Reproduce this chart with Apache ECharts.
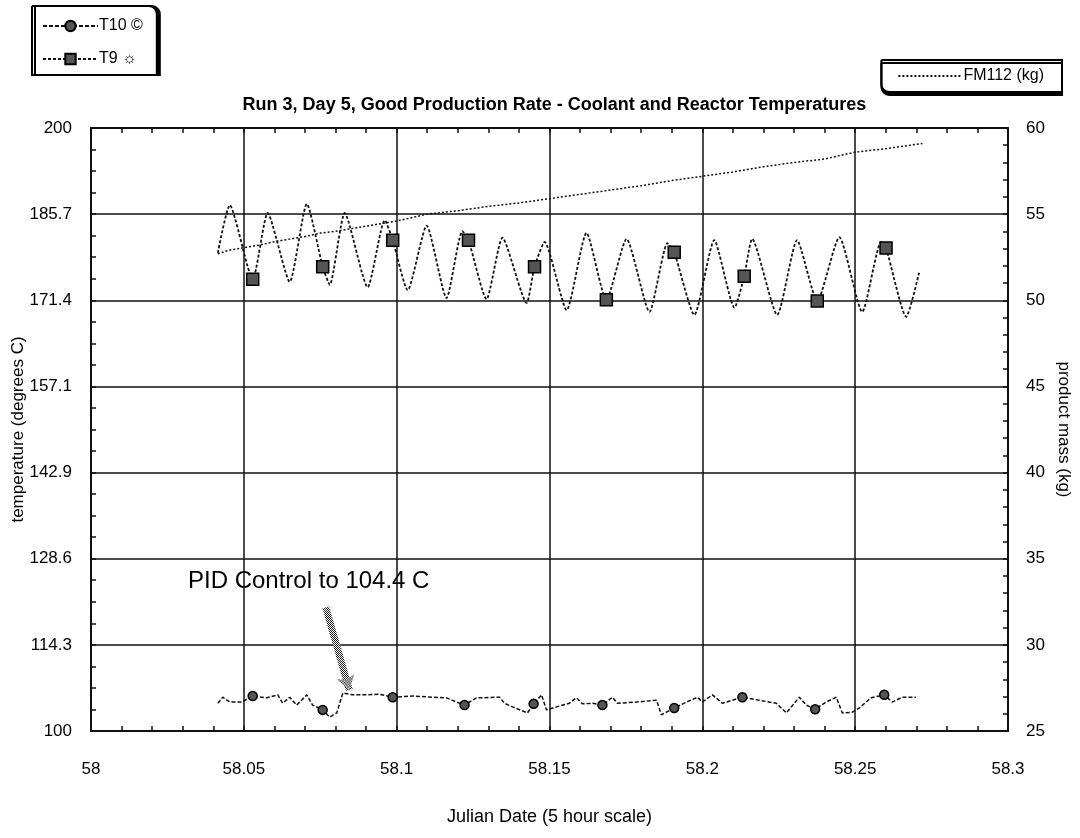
<!DOCTYPE html>
<html>
<head>
<meta charset="utf-8">
<script src="https://cdn.jsdelivr.net/npm/echarts@6/dist/echarts.min.js"></script>
<style>
html,body{margin:0;padding:0;background:#fff;}
#chart{width:1080px;height:838px;}
</style>
</head>
<body>
<div id="chart"></div>
<script>
// ---------- data ----------
const titleText = 'Run 3, Day 5, Good Production Rate - Coolant and Reactor Temperatures';
const xName = 'Julian Date (5 hour scale)';
const yLeftName = 'temperature (degrees C)';
const yRightName = 'product mass (kg)';
const annotationText = 'PID Control to 104.4 C';

// T9 (reactor temperature, deg C): [julian date, temperature]
const t9 = [
  [58.0415,179.3],[58.0454,187.2],[58.0529,174.9],[58.0578,185.9],[58.0650,174.5],
  [58.0706,187.4],[58.0758,177.0],[58.0781,174.0],[58.0830,185.9],[58.0905,173.6],
  [58.0961,184.7],[58.0987,181.4],[58.1036,173.1],[58.1098,183.8],[58.1163,171.8],
  [58.1215,182.9],[58.1235,181.4],[58.1294,171.6],[58.1346,181.8],[58.1425,171.0],
  [58.1451,177.0],[58.1484,181.1],[58.1556,169.8],[58.1621,182.6],[58.1686,171.5],
  [58.1752,181.6],[58.1827,169.5],[58.1886,180.9],[58.1908,179.4],[58.1974,169.0],
  [58.2039,181.4],[58.2105,170.2],[58.2137,175.4],[58.2163,181.6],[58.2245,169.0],
  [58.2310,181.4],[58.2376,171.3],[58.2448,181.9],[58.2523,169.5],[58.2585,181.1],
  [58.2601,180.1],[58.2667,168.7],[58.2709,176.0]
];
const t9MarkerDates = [58.0529,58.0758,58.0987,58.1235,58.1451,58.1686,58.1908,58.2137,58.2376,58.2601];

// T10 (coolant temperature, deg C): [julian date, temperature]
const t10 = [
  [58.0415,104.6],[58.0431,105.6],[58.0454,104.8],[58.0493,104.8],[58.0529,105.8],
  [58.0575,105.5],[58.0611,106.0],[58.0627,104.6],[58.0650,105.6],[58.0673,104.3],
  [58.0706,106.0],[58.0725,104.3],[58.0758,103.5],[58.0781,102.3],[58.0804,103.0],
  [58.0824,106.3],[58.0856,106.0],[58.0902,106.0],[58.0944,106.1],[58.0987,105.6],
  [58.1052,105.8],[58.1118,105.6],[58.1163,105.5],[58.1196,104.8],[58.1222,104.3],
  [58.1261,105.5],[58.1337,105.6],[58.1353,104.6],[58.1379,104.0],[58.1428,103.0],
  [58.1448,104.5],[58.1474,106.0],[58.1490,103.5],[58.1523,104.0],[58.1565,104.6],
  [58.1588,105.5],[58.1608,104.5],[58.1641,104.6],[58.1673,104.3],[58.1706,105.6],
  [58.1722,104.6],[58.1784,104.8],[58.1850,105.1],[58.1866,102.7],[58.1908,103.8],
  [58.1948,104.8],[58.1984,105.6],[58.2000,104.8],[58.2033,106.0],[58.2065,104.6],
  [58.2131,105.6],[58.2186,105.1],[58.2242,104.6],[58.2275,103.0],[58.2317,105.6],
  [58.2340,104.3],[58.2369,103.6],[58.2405,104.8],[58.2438,105.6],[58.2458,103.0],
  [58.2490,103.1],[58.2513,103.8],[58.2552,105.5],[58.2595,106.0],[58.2621,104.8],
  [58.2654,105.6],[58.2699,105.6]
];
const t10MarkerDates = [58.0529,58.0758,58.0987,58.1222,58.1448,58.1673,58.1908,58.2131,58.2369,58.2595];

// FM112 (product mass, kg): [julian date, mass]
const fm112 = [
  [58.0415,52.7],[58.045,52.9],[58.05,53.05],[58.055,53.2],[58.06,53.4],[58.065,53.55],
  [58.07,53.7],[58.075,53.9],[58.08,54.0],[58.085,54.15],[58.09,54.3],[58.095,54.45],
  [58.1,54.6],[58.11,55.0],[58.12,55.2],[58.13,55.45],[58.14,55.65],[58.15,55.9],
  [58.16,56.15],[58.17,56.4],[58.18,56.65],[58.19,56.95],[58.2,57.2],[58.21,57.45],
  [58.22,57.75],[58.23,58.0],[58.24,58.2],[58.25,58.6],[58.26,58.8],[58.272,59.1]
];

// annotation arrow (data coordinates): tail, head
const arrowTail = [58.0768, 120.5];
const arrowHead = [58.0845, 106.8];

// axis ranges
const xMin = 58, xMax = 58.3, xStep = 0.05;
const tMin = 100, tMax = 200, tSteps = 7;
const mMin = 25, mMax = 60, mStep = 5;

// ---------- helpers ----------
function makePattern(size, draw) {
  const c = document.createElement('canvas');
  c.width = size; c.height = size;
  const ctx = c.getContext('2d');
  draw(ctx);
  return { image: c, repeat: 'repeat' };
}
const greyPattern = makePattern(2, ctx => {
  ctx.fillStyle = '#fff'; ctx.fillRect(0, 0, 2, 2);
  ctx.fillStyle = '#222'; ctx.fillRect(0, 0, 1, 1); ctx.fillRect(1, 1, 1, 1);
});
const isMarker = (list, x) => list.some(d => Math.abs(d - x) < 1e-6);
const fmtTemp = v => { const r = Math.round(v * 10) / 10; return (r % 1 === 0) ? String(r) : r.toFixed(1); };

const FONT = "'Liberation Sans', Arial, Helvetica, sans-serif";
const INK = '#111';

const chart = echarts.init(document.getElementById('chart'), null, { renderer: 'canvas' });

const xAxisBase = {
  type: 'value', min: xMin, max: xMax, interval: xStep,
  axisLine: { show: true, lineStyle: { color: INK, width: 2 } },
  axisTick: { show: true, inside: true, length: 5, lineStyle: { color: INK, width: 1.5 } },
  minorTick: { show: true, splitNumber: 5, length: 5, lineStyle: { color: INK, width: 1.5 } },
};

chart.setOption({
  animation: false,
  backgroundColor: '#fff',
  textStyle: { fontFamily: FONT, color: '#000' },
  title: {
    text: titleText, left: 549.5, top: 91, textAlign: 'center',
    textStyle: { fontFamily: FONT, fontSize: 18, fontWeight: 'bold', color: '#000' }
  },
  legend: [
    {
      data: ['T10 ©', 'T9 ☼'], orient: 'vertical', left: 32, top: 6,
      itemWidth: 55, itemHeight: 13, itemGap: 17, padding: [12, 14, 8, 10],
      borderColor: '#000', borderWidth: 2, borderRadius: [0, 8, 0, 0],
      backgroundColor: '#fff', selectedMode: false,
      shadowColor: '#000', shadowOffsetX: 3, shadowOffsetY: 0, shadowBlur: 0,
      textStyle: { fontFamily: FONT, fontSize: 16, color: '#000', padding: [0, 0, 0, -4] }
    },
    {
      data: ['FM112 (kg)'], orient: 'horizontal', right: 18, top: 60,
      itemWidth: 64, itemHeight: 12, padding: [8, 18, 8, 16],
      borderColor: '#000', borderWidth: 2, borderRadius: [0, 0, 0, 8],
      backgroundColor: '#fff', selectedMode: false,
      shadowColor: '#000', shadowOffsetX: 0, shadowOffsetY: 3, shadowBlur: 0,
      textStyle: { fontFamily: FONT, fontSize: 16, color: '#000', padding: [0, 0, 0, -4] }
    }
  ],
  grid: { left: 91, right: 72, top: 128, bottom: 107, containLabel: false, outerBoundsMode: 'none' },
  xAxis: [
    Object.assign({}, xAxisBase, {
      position: 'bottom',
      name: xName, nameLocation: 'middle', nameGap: 77, nameMoveOverlap: false,
      nameTextStyle: { fontFamily: FONT, fontSize: 18, color: '#000' },
      axisLabel: { show: true, margin: 30, fontFamily: FONT, fontSize: 17, color: '#000' },
      splitLine: { show: true, lineStyle: { color: INK, width: 1.5 } }
    }),
    Object.assign({}, xAxisBase, {
      position: 'top', axisLabel: { show: false }, splitLine: { show: false }
    })
  ],
  yAxis: [
    {
      type: 'value', position: 'left', min: tMin, max: tMax, interval: (tMax - tMin) / tSteps,
      name: yLeftName, nameLocation: 'middle', nameGap: 64, nameRotate: 90, nameMoveOverlap: false,
      nameTextStyle: { fontFamily: FONT, fontSize: 17, color: '#000' },
      axisLine: { show: true, lineStyle: { color: INK, width: 2 } },
      axisTick: { show: true, inside: true, length: 5, lineStyle: { color: INK, width: 1.5 } },
      minorTick: { show: true, splitNumber: 4, length: 5, lineStyle: { color: INK, width: 1.5 } },
      axisLabel: { margin: 19, fontFamily: FONT, fontSize: 17, color: '#000', formatter: fmtTemp },
      splitLine: { show: true, lineStyle: { color: INK, width: 1.5 } }
    },
    {
      type: 'value', position: 'right', min: mMin, max: mMax, interval: mStep,
      name: yRightName, nameLocation: 'middle', nameGap: 47, nameRotate: -90, nameMoveOverlap: false,
      nameTextStyle: { fontFamily: FONT, fontSize: 17, color: '#000' },
      axisLine: { show: true, lineStyle: { color: INK, width: 2 } },
      axisTick: { show: true, inside: true, length: 5, lineStyle: { color: INK, width: 1.5 } },
      minorTick: { show: true, splitNumber: 5, length: 5, lineStyle: { color: INK, width: 1.5 } },
      axisLabel: { margin: 18, fontFamily: FONT, fontSize: 17, color: '#000' },
      splitLine: { show: false }
    }
  ],
  graphic: [
    {
      type: 'text', left: 188, top: 569, silent: true,
      style: { text: annotationText, font: "24px 'Liberation Sans', Arial, sans-serif", fill: '#000' }
    }
  ],
  series: [
    {
      name: 'T10 ©', type: 'line', xAxisIndex: 0, yAxisIndex: 0, data: t10,
      symbol: 'circle',
      symbolSize: (v) => isMarker(t10MarkerDates, v[0]) ? 9 : 0,
      itemStyle: { color: '#555', borderColor: '#000', borderWidth: 1.5 },
      lineStyle: { color: INK, width: 1.5, type: [4, 2] },
      z: 4,
      markLine: {
        silent: true, symbol: ['none', 'arrow'], symbolSize: [14, 14],
        label: { show: false },
        lineStyle: { color: greyPattern, width: 7, type: 'solid' },
        data: [[{ coord: arrowTail }, { coord: arrowHead }]]
      }
    },
    {
      name: 'T9 ☼', type: 'line', xAxisIndex: 0, yAxisIndex: 0, data: t9,
      symbol: 'rect', smooth: 0.2,
      symbolSize: (v) => isMarker(t9MarkerDates, v[0]) ? 12 : 0,
      itemStyle: { color: '#555', borderColor: '#000', borderWidth: 1.5 },
      lineStyle: { color: INK, width: 1.8, type: [3, 2] },
      z: 4
    },
    {
      name: 'FM112 (kg)', type: 'line', xAxisIndex: 0, yAxisIndex: 1, data: fm112,
      symbol: 'none', showSymbol: false,
      itemStyle: { color: 'rgba(0,0,0,0)' },
      lineStyle: { color: INK, width: 1.5, type: [2, 2] },
      z: 3
    }
  ]
});
</script>
</body>
</html>
